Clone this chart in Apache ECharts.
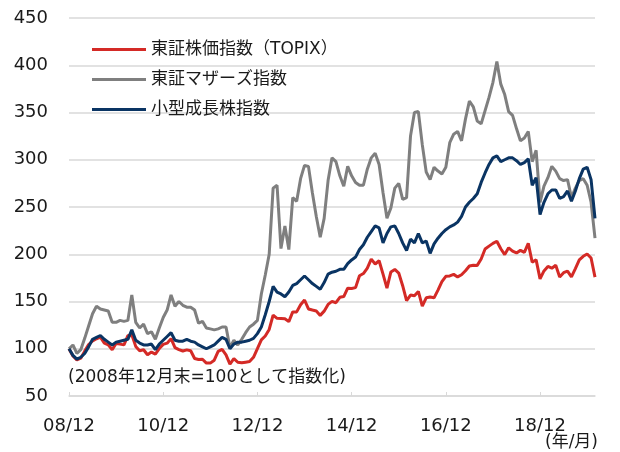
<!DOCTYPE html>
<html>
<head>
<meta charset="utf-8">
<script src="https://cdn.jsdelivr.net/npm/echarts@6/dist/echarts.min.js"></script>
<style>
html, body { margin: 0; padding: 0; background: #fff; }
#chart { width: 620px; height: 452px; }
</style>
</head>
<body>
<div id="chart"></div>
<script>
// 月次（2008/12 〜 2020/02）
let months = [];
for (let y = 2008, m = 12; y < 2020 || m <= 2; ) {
	months.push(String(y).slice(2) + "/" + (m < 10 ? "0" + m : m));
	m++;
	if (m > 12) { m = 1; y++; }
}

let seriesNames = ["東証株価指数（TOPIX）", "東証マザーズ指数", "小型成長株指数"];

// 東証株価指数（TOPIX）
let topix = [100,
	92.4, 88.1, 90.0, 97.5, 104.5, 108.2, 110.6, 112.2, 105.9, 104.1, 98.9, 105.6,
	104.9, 104.1, 113.9, 114.9, 102.5, 97.9, 98.9, 93.6, 96.5, 94.4, 100.2, 104.6,
	105.9, 110.7, 101.2, 99.1, 97.6, 98.8, 97.9, 89.7, 88.6, 88.9, 84.8, 84.8,
	87.9, 97.3, 99.4, 93.6, 83.7, 89.6, 85.7, 85.1, 85.8, 86.4, 90.9, 100.1,
	109.4, 113.5, 120.4, 135.6, 132.2, 132.0, 131.7, 128.7, 139.0, 139.0, 146.5, 151.6,
	142.1, 141.0, 140.0, 135.3, 139.8, 146.9, 150.1, 148.7, 154.4, 155.2, 164.1, 163.8,
	164.7, 177.3, 179.6, 185.4, 194.8, 189.7, 193.1, 178.9, 164.2, 181.3, 183.9, 180.1,
	166.7, 151.0, 156.8, 156.0, 160.6, 145.0, 153.9, 154.7, 153.9, 162.1, 171.0, 176.7,
	177.1, 178.7, 176.0, 178.3, 182.5, 187.6, 188.4, 188.2, 194.9, 205.5, 208.6, 211.5,
	213.8, 205.8, 199.7, 206.8, 203.4, 201.4, 204.1, 202.0, 211.5, 191.6, 194.1, 173.9,
	182.4, 187.1, 185.2, 188.3, 176.0, 180.5, 182.2, 176.0, 184.8, 194.0, 197.8, 200.3,
	196.0, 175.8];

// 東証マザーズ指数
let mothers = [100,
	104, 95, 99, 111, 124, 137, 145, 142, 141, 140, 128, 128,
	130, 129, 130, 157, 128, 122, 126, 116, 118, 110, 122, 133,
	141, 157, 145, 150, 146, 144, 144, 141, 127, 129, 122, 121,
	120, 121, 123, 123, 101, 109, 104, 110, 117, 123, 126, 130,
	158, 178, 200, 270, 273, 206, 230, 205, 260, 256, 280, 294,
	293, 265, 240, 218, 238, 278, 302, 298, 283, 272, 293, 283,
	276, 273, 273, 290, 302, 307, 295, 265, 238, 249, 270, 275,
	258, 260, 325, 350, 351, 316, 287, 279, 292, 288, 285, 292,
	318, 327, 330, 320, 343, 362, 356, 341, 338, 352, 366, 382,
	404, 380, 369, 351, 347, 333, 320, 323, 330, 298, 310, 255,
	272, 281, 293, 288, 280, 278, 279, 260, 270, 278, 280, 273,
	255, 217];

// 小型成長株指数
let smallGrowth = [100,
	93, 89, 91, 95, 102, 110, 112, 114, 110, 107, 104, 107,
	108, 109, 110, 120, 109, 106, 104, 104, 105, 99, 105, 109,
	113, 117, 109, 108, 108, 110, 108, 107, 104, 102, 100, 102,
	104, 108, 112, 110, 100, 105, 107, 107, 108, 109, 111, 116,
	123, 136, 150, 166, 160, 158, 155, 160, 167, 169, 173, 177,
	173, 169, 166, 163, 170, 179, 181, 182, 184, 184, 190, 194,
	197, 205, 210, 218, 224, 230, 228, 212, 222, 229, 230, 222,
	212, 204, 216, 212, 222, 212, 214, 201, 211, 217, 222, 226,
	229, 231, 234, 240, 250, 255, 259, 264, 276, 286, 295, 302,
	304, 298, 300, 302, 302, 299, 295, 297, 301, 273, 281, 242,
	255, 264, 268, 268, 259, 261, 267, 256, 267, 280, 290, 292,
	279, 238];

let yTicks = [50, 100, 150, 200, 250, 300, 350, 400, 450];

let fontFam = "'DejaVu Sans', 'Noto Sans CJK JP', sans-serif";
let txtColor = "#1a1a1a";
let chart = echarts.init(document.getElementById("chart"));

let option = {
	animation: false,
	backgroundColor: "#fff",
	textStyle: { fontFamily: fontFam },
	grid: { left: 69, right: 25, top: 18, bottom: 56 },
	legend: {
		orient: "vertical",
		left: 87,
		top: 36,
		itemWidth: 54,
		itemHeight: 3,
		itemGap: 13,
		icon: "rect",
		textStyle: { fontSize: 17, color: txtColor, fontFamily: fontFam },
		data: seriesNames
	},
	xAxis: {
		type: "category",
		boundaryGap: false,
		data: months,
		axisLine: { lineStyle: { color: "#d9d9d9", width: 1.5 } },
		axisTick: { inside: true, length: 4, interval: 23, lineStyle: { color: "#d9d9d9" } },
		axisLabel: {
			interval: 23,
			margin: 21,
			fontSize: 18,
			color: txtColor,
			fontFamily: fontFam
		}
	},
	yAxis: {
		type: "value",
		min: yTicks[0],
		max: yTicks[yTicks.length - 1],
		interval: 50,
		axisLine: { show: false },
		axisTick: { show: false },
		splitLine: { lineStyle: { color: "#d9d9d9", width: 1.5 } },
		axisLabel: { fontSize: 18, color: txtColor, margin: 21, fontFamily: fontFam }
	},
	graphic: [
		{
			type: "text",
			left: 68,
			top: 369,
			style: { text: "(2008年12月末=100として指数化)", fill: txtColor, font: "17px " + fontFam }
		},
		{
			type: "text",
			right: 22,
			top: 434,
			style: { text: "(年/月)", fill: txtColor, font: "17px " + fontFam }
		}
	],
	series: [
		{ name: seriesNames[0], type: "line", data: topix, showSymbol: false, lineStyle: { width: 3, color: "#d42a26" }, itemStyle: { color: "#d42a26" } },
		{ name: seriesNames[1], type: "line", data: mothers, showSymbol: false, lineStyle: { width: 3, color: "#7f7f7f" }, itemStyle: { color: "#7f7f7f" } },
		{ name: seriesNames[2], type: "line", data: smallGrowth, showSymbol: false, lineStyle: { width: 3, color: "#0a3463" }, itemStyle: { color: "#0a3463" } }
	]
};
chart.setOption(option);
</script>
</body>
</html>
